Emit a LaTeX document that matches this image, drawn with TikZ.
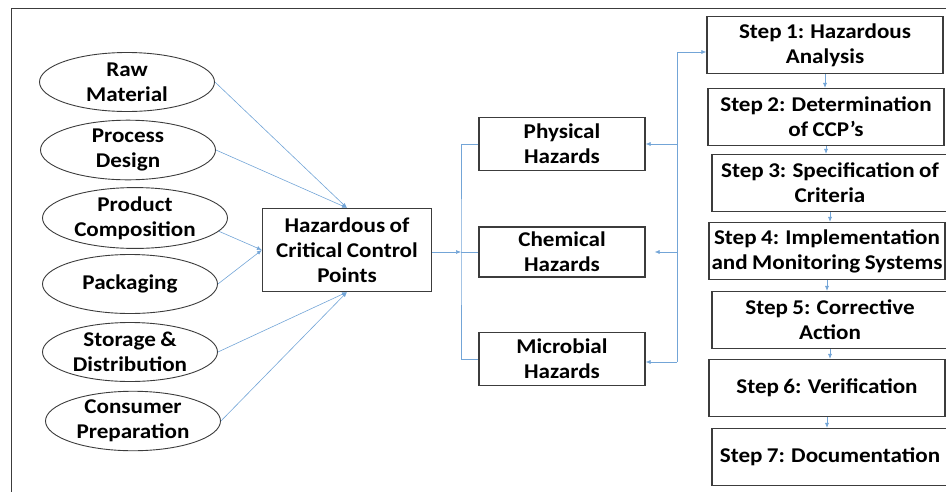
\documentclass[tikz,border=0pt]{standalone}
\usepackage{fontspec}
\setmainfont{Carlito}[FakeStretch=1.1, WordSpace=0.85]
\usetikzlibrary{shapes.geometric,arrows.meta}
\definecolor{linkblue}{RGB}{115,165,215}
\definecolor{boxgray}{RGB}{60,60,60}
\tikzset{
  txt/.style={align=center, font=\bfseries\fontsize{21}{25}\selectfont},
  source/.style={txt, ellipse, draw=boxgray, line width=0.9pt, minimum width=175pt, minimum height=59pt, inner sep=0pt},
  box/.style={txt, rectangle, draw=boxgray, line width=1.2pt, inner sep=0pt},
  stepbox/.style={box, minimum width=236pt, minimum height=57pt},
  hazbox/.style={box, minimum width=166pt, minimum height=53pt},
  link/.style={draw=linkblue, line width=0.6pt},
  arr/.style={link, -{Latex[length=5pt,width=4pt]}}
}
\begin{document}
\begin{tikzpicture}[x=1pt, y=-1pt]
\useasboundingbox (0,0) rectangle (946,491);
\clip (0,0) rectangle (946,491);
\draw[boxgray, line width=1pt] (11,8) rectangle (960,500);

% sources
\node[source] (raw) at (127,82) {Raw\\Material};
\node[source] (proc) at (128,150) {Process\\Design};
\node[source, minimum width=185pt] (comp) at (135,218) {Product\\Composition};
\node[source] (pack) at (130,284) {Packaging};
\node[source] (stor) at (130,352) {Storage \&\\Distribution};
\node[source] (cons) at (133,421) {Consumer\\Preparation};

\node[box, minimum width=169pt, minimum height=83pt] (ccp) at (347,250) {Hazardous of\\Critical Control\\Points};

% hazards
\node[hazbox] (phys) at (562,144) {Physical\\Hazards};
\node[hazbox, minimum height=50pt] (chem) at (562,252) {Chemical\\Hazards};
\node[hazbox] (micro) at (562,359) {Microbial\\Hazards};

% steps
\node[stepbox] (s1) at (825,45) {Step 1: Hazardous\\Analysis};
\node[stepbox] (s2) at (826,117) {Step 2: Determination\\of CCP’s};
\node[stepbox] (s3) at (830,183) {Step 3: Specification of\\Criteria};
\node[stepbox] (s4) at (827,251) {Step 4: Implementation\\and Monitoring Systems};
\node[stepbox] (s5) at (830,320) {Step 5: Corrective\\Action};
\node[stepbox] (s6) at (827,388) {Step 6: Verification};
\node[stepbox] (s7) at (830,457) {Step 7: Documentation};

\coordinate (lbus) at (461,252);
\coordinate (rtop) at (677,52);
\coordinate (rbot) at (677,362);

\draw[arr] (raw.east) -- (ccp.north);
\draw[arr] (proc.east) -- (ccp.north);
\draw[arr] (comp.-9) -- (ccp.west);
\draw[arr] (pack.east) -- (ccp.west);
\draw[arr] (stor.east) -- (ccp.south);
\draw[arr] (cons.east) -- (ccp.south);

\draw[arr] (ccp.east |- lbus) -- (lbus);
\draw[link] (phys.west) -| (lbus) |- (micro.west);
\draw[link] (lbus) -- (chem.west);

\draw[link] (rtop) -- (rbot);
\draw[arr] (rtop) -- (rtop -| s1.west);
\draw[arr] (rtop |- phys.east) -- (phys.east);
\draw[arr, shorten >=9pt] (rtop |- chem.east) -- (chem.east);
\draw[arr] (rbot) -- (rbot -| micro.east);

\foreach \a/\b in {s1/s2, s2/s3, s3/s4, s4/s5, s5/s6, s6/s7}
  \draw[arr] (\a.south) -- (\a.south |- \b.north);
\end{tikzpicture}
\end{document}
